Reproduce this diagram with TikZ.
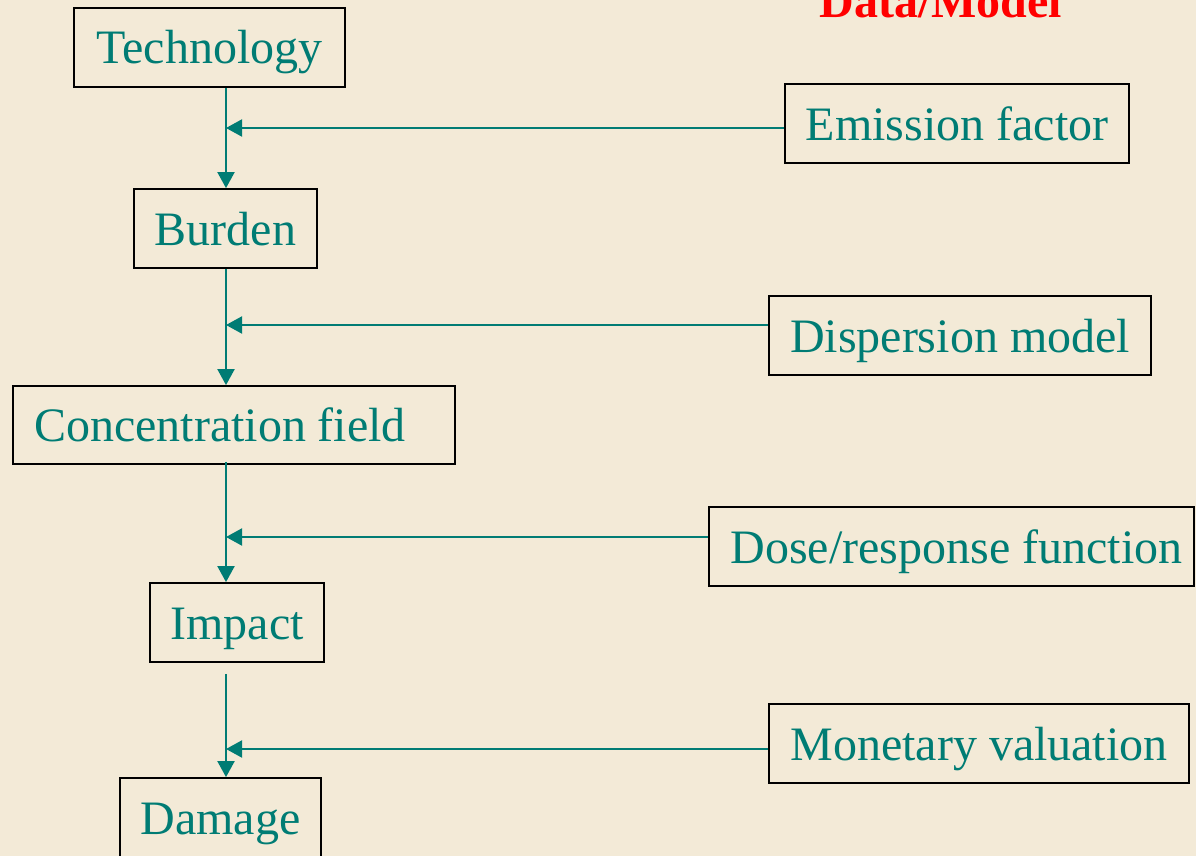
\documentclass[tikz,border=0pt]{standalone}
\usepackage{fontspec}
\setmainfont{Liberation Serif}
\usetikzlibrary{arrows.meta}
\definecolor{parch}{RGB}{243,234,215}
\definecolor{tealtxt}{RGB}{0,124,116}
\definecolor{redtxt}{RGB}{255,0,0}
\tikzset{
  box/.style={draw=black, line width=1.8pt, text=tealtxt, inner sep=0pt,
    font=\fontsize{48}{58}\selectfont, text height=33pt, text depth=0pt,
    minimum height=79pt},
  arr/.style={draw=tealtxt, line width=2pt, -{Triangle[length=16pt,width=17pt]}},
}
\begin{document}
\begin{tikzpicture}[x=1pt,y=-1pt]
\fill[parch] (0,0) rectangle (1196,856);
\useasboundingbox (0,0) rectangle (1196,856);

\node[font=\fontsize{48}{58}\selectfont\bfseries, text=redtxt, anchor=base, inner sep=0pt] (title) at (941,18) {Data/Model};

\node[box, minimum width=271pt] (tech) at (209.5,47.5) {Technology};
\node[box, minimum width=344pt] (emis) at (957,123.5) {Emission factor};
\node[box, minimum width=183pt] (burden) at (225.5,228.5) {Burden};
\node[box, minimum width=382pt] (disp) at (960,335.5) {Dispersion model};
\node[box, minimum width=442pt, minimum height=78pt] (conc) at (234,425) {\hspace*{-28pt}Concentration field};
\node[box, minimum width=485pt] (dose) at (951.5,546.5) {\hspace*{10pt}Dose/response function};
\node[box, minimum width=174pt] (impact) at (237,622.5) {Impact};
\node[box, minimum width=420pt] (money) at (979,743.5) {Monetary valuation};
\node[box, minimum width=201pt] (damage) at (220.5,817.5) {Damage};

\coordinate (spine) at (226,0);
\coordinate (j1) at (226,128);
\coordinate (j2) at (226,325);
\coordinate (j3) at (226,537);
\coordinate (j4) at (226,749);

\draw[arr] (tech.south -| spine) -- (burden.north -| spine);
\draw[arr] (burden.south -| spine) -- (conc.north -| spine);
\draw[arr, shorten <=-3pt] (conc.south -| spine) -- (impact.north -| spine);
\draw[arr, shorten <=11pt] (impact.south -| spine) -- (damage.north -| spine);

\draw[arr] (emis.west |- j1) -- (j1);
\draw[arr] (disp.west |- j2) -- (j2);
\draw[arr] (dose.west |- j3) -- (j3);
\draw[arr] (money.west |- j4) -- (j4);
\end{tikzpicture}
\end{document}
